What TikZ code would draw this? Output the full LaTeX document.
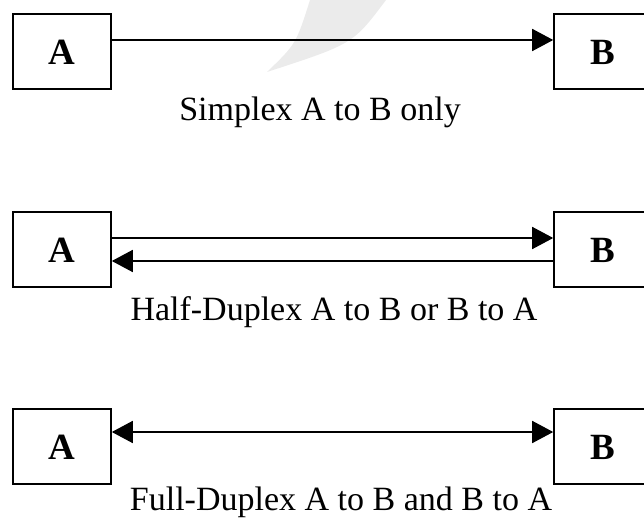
\documentclass[tikz,border=0pt]{standalone}
\usepackage{fontspec}
\setmainfont{Liberation Serif}
\usetikzlibrary{arrows.meta}
\tikzset{
  box/.style={draw, line width=1.6pt, minimum width=98pt, minimum height=75pt, inner sep=0pt,
    font=\fontsize{37}{40}\selectfont\bfseries, text height=26pt, text depth=0pt},
  captext/.style={anchor=base, inner sep=0pt, font=\fontsize{34}{40}\selectfont},
  arr/.style={line width=1.6pt, -{Triangle[length=21pt,width=22pt]}},
  biarr/.style={line width=1.6pt, {Triangle[length=21pt,width=22pt]}-{Triangle[length=21pt,width=22pt]}}
}
\begin{document}
\begin{tikzpicture}[x=1pt,y=-1pt]
\useasboundingbox (0,0) rectangle (644,521);
\clip (0,0) rectangle (644,521);
\fill[gray!16] (310,0) .. controls (296,44) .. (267,72) .. controls (353,44) .. (386,0) -- cycle;
% Simplex
\node[box] (A1) at (62,51.5) {A};
\node[box] (B1) at (603,51.5) {B};
\draw[arr] ([yshift=11.5pt]A1.east) -- ([yshift=11.5pt]B1.west);
\node[captext] (c1) at (320,121) {Simplex A to B only};
% Half duplex
\node[box] (A2) at (62,249.5) {A};
\node[box] (B2) at (603,249.5) {B};
\draw[arr] ([yshift=11.5pt]A2.east) -- ([yshift=11.5pt]B2.west);
\draw[arr] ([yshift=-11.5pt]B2.west) -- ([yshift=-11.5pt]A2.east);
\node[captext] (c2) at (334,320) {Half-Duplex A to B or B to A};
% Full duplex
\node[box] (A3) at (62,446.5) {A};
\node[box] (B3) at (603,446.5) {B};
\draw[biarr] ([yshift=14.5pt]A3.east) -- ([yshift=14.5pt]B3.west);
\node[captext] (c3) at (341,510) {Full-Duplex A to B and B to A};
\end{tikzpicture}
\end{document}
